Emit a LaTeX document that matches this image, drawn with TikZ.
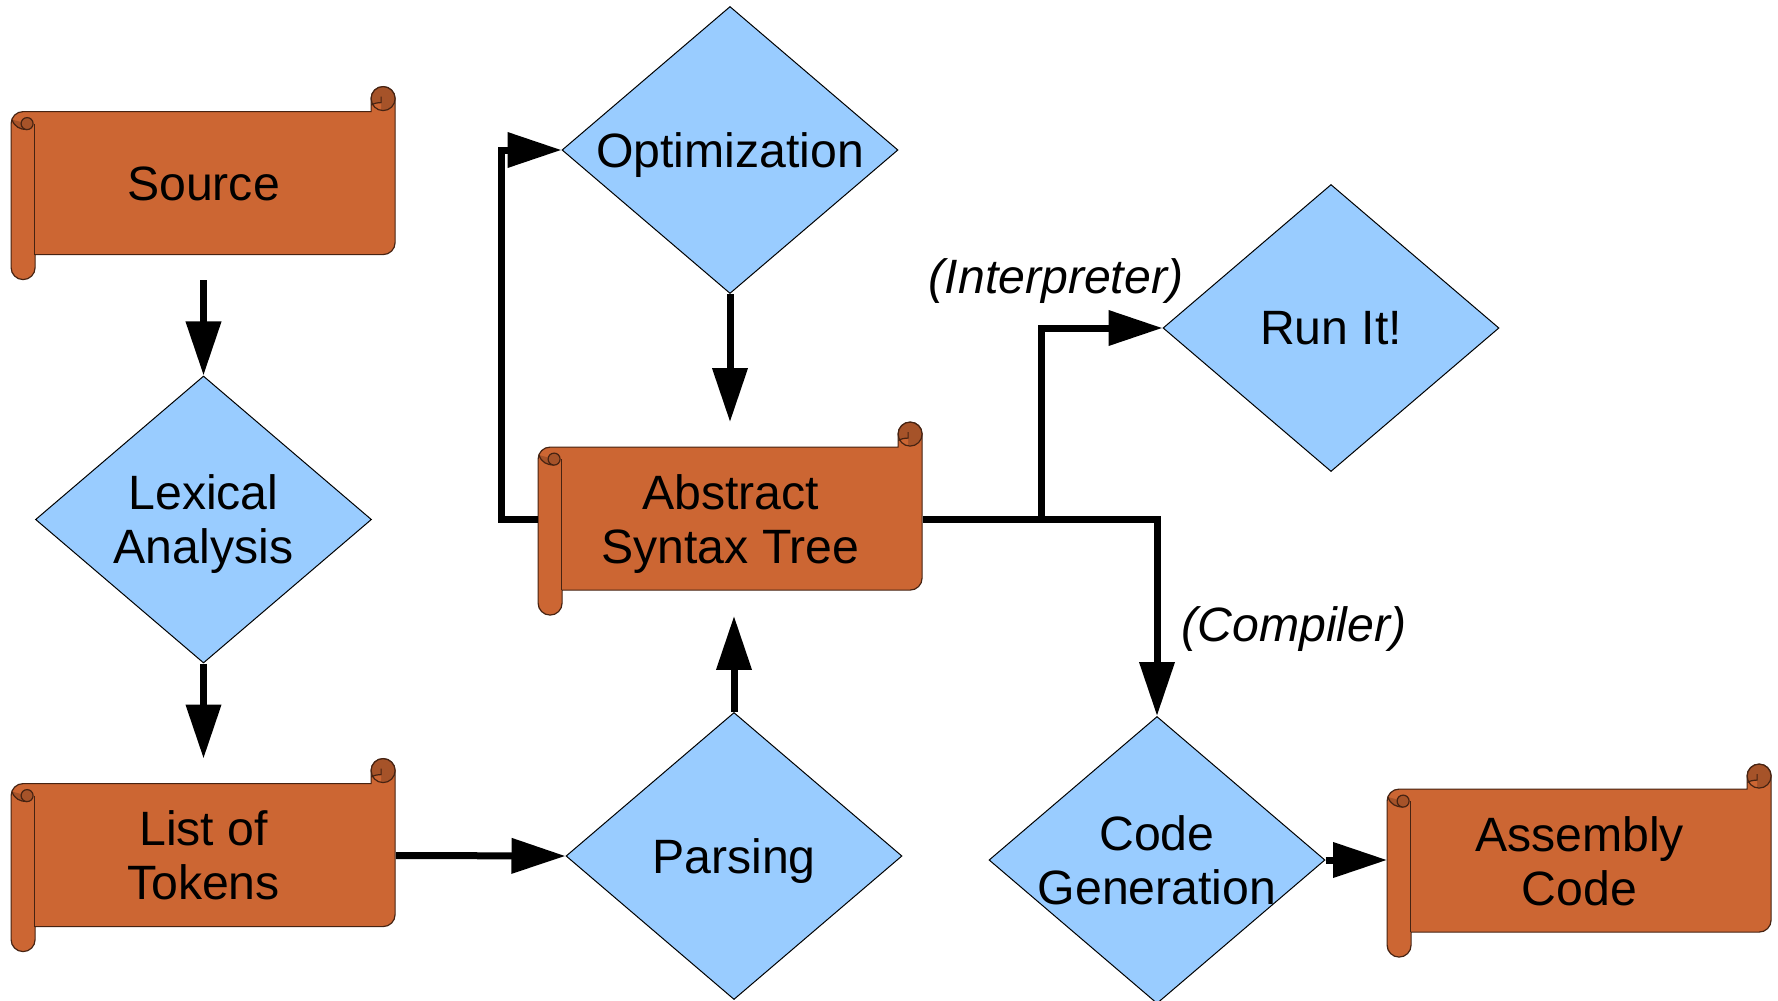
\documentclass[tikz,border=0pt]{standalone}
\usepackage{fontspec}
\setmainfont{Liberation Sans}
\usetikzlibrary{shapes.geometric,arrows.meta,positioning,backgrounds}

\definecolor{scrollorange}{RGB}{204,102,51}
\definecolor{scrolldark}{RGB}{166,83,41}
\definecolor{scrollline}{RGB}{70,35,18}
\definecolor{decisionblue}{RGB}{153,204,255}

% scroll outline drawn behind a named node (units: pixels, y downwards)
\newcommand{\drawscroll}[1]{%
  \begin{scope}[shift={(#1.north west)}, draw=scrollline, line width=0.6pt]
    \filldraw[fill=scrollorange] (0,37) arc[start angle=180, end angle=90, radius=6pt]
      -- (360,25) -- (360,12) arc[start angle=180, end angle=0, radius=6pt]
      -- (384,156) arc[start angle=0, end angle=-90, radius=6pt]
      -- (24,168) -- (24,181) arc[start angle=0, end angle=-180, radius=6pt] -- cycle;
    % right roll
    \fill[scrolldark] (372,12) circle[radius=6pt];
    \begin{scope}
      \clip (372,12) circle[radius=6pt];
      \fill[scrollorange] (360,18.5) .. controls (362,17) and (366,16) .. (370,16) -- (370,26) -- (356,26) -- cycle;
    \end{scope}
    \draw (372,12) circle[radius=6pt];
    \draw (370,10) -- (370,16) .. controls (366,16) and (362,17) .. (360.3,18.5);
    % left roll
    \fill[scrolldark] (1,33) .. controls (3,40) and (9,43) .. (16,43) -- (16,37) -- cycle;
    \draw (1,33) .. controls (3,40) and (9,43) .. (16,43);
    \filldraw[fill=scrolldark] (16,37) circle[radius=3pt];
    \draw (23,37) -- (23,168);
  \end{scope}}

\begin{document}
\begin{tikzpicture}[x=0.5pt, y=-0.5pt, node distance=168pt,
    every node/.style={font=\fontsize{24.1}{27}\selectfont, align=center},
    scroll/.style={rectangle, inner sep=0pt, text depth=0pt, minimum width=192pt, minimum height=96.5pt},
    decision/.style={diamond, draw, line width=0.5pt, fill=decisionblue, inner sep=-6pt, text depth=0pt, aspect=1.17, minimum width=168pt, minimum height=143.5pt},
    note/.style={font=\fontsize{24.1}{27}\selectfont\itshape},
    flow/.style={line width=3.5pt, -{Triangle[length=27pt, width=17pt]}}]
  \useasboundingbox (0,0) rectangle (1778,1001);

  \node (source) [scroll] at (203.5,183.5) {Source};
  \node (lexical) [decision, below of=source] {Lexical\\Analysis};
  \node (tokens) [scroll, below of=lexical] {List of\\Tokens};

  \node (parsing) [decision] at (734,856) {Parsing};
  \node (ast) [scroll] at (730.5,519) {Abstract\\Syntax Tree};
  \node (optim) [decision] at (730,150) {Optimization};

  \node (runit) [decision] at (1331,328) {Run It!};
  \node (codegen) [decision] at (1157,860) {Code\\Generation};
  \node (assembly) [scroll] at (1579.5,861) {Assembly\\Code};

  \node (interp) [note] at (1056,281) {(Interpreter)};
  \node (compiler) [note] at (1294,629) {(Compiler)};

  \begin{pgfonlayer}{background}
    \foreach \n in {source,tokens,ast,assembly} {\drawscroll{\n}}
  \end{pgfonlayer}

  \draw [flow] (source) -- (lexical);
  \draw [flow] (lexical) -- (tokens);
  \draw [flow] (tokens.east) -- (parsing.west);
  \draw [flow] (parsing.north) -- (parsing.north |- ast.south);
  \draw [flow] (optim.south) -- (optim.south |- ast.north);
  \draw [flow] (ast.west) -- ++(-37,0) |- (optim.west);
  \draw [flow] (ast.east) -- ++(119,0) |- (runit.west);
  \draw [flow] (ast.east) -| (codegen.north);
  \draw [flow] (codegen.east) -- (codegen.east -| assembly.west);
\end{tikzpicture}
\end{document}
